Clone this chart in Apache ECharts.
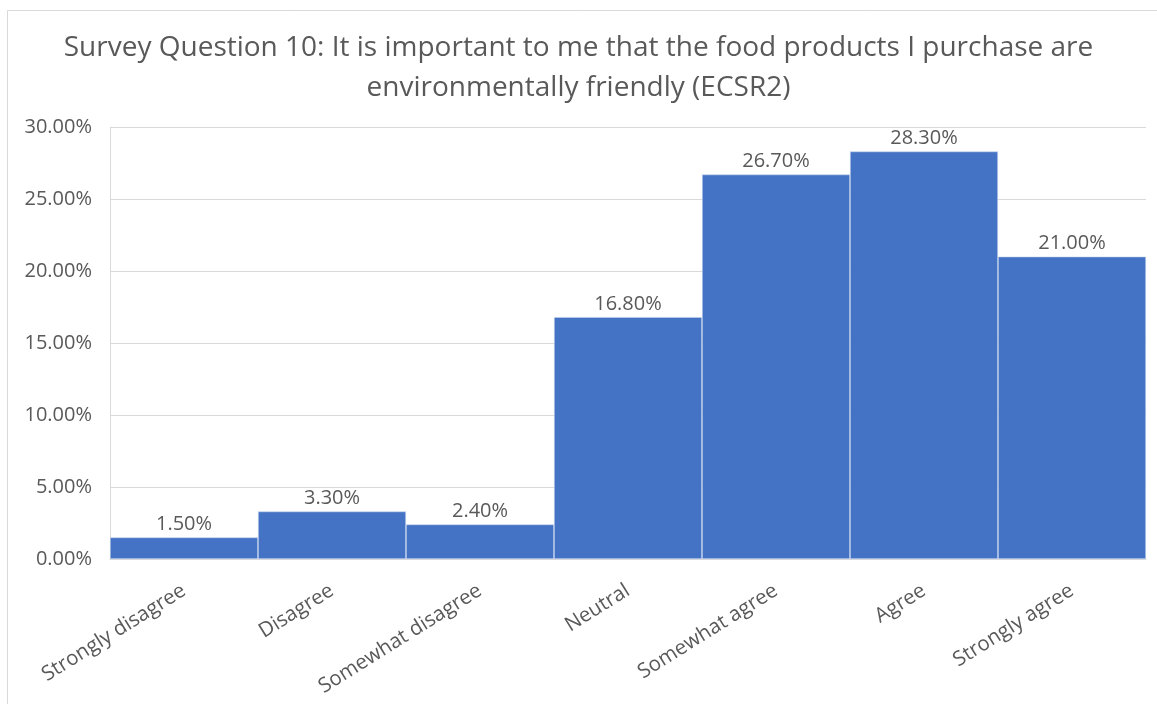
<!DOCTYPE html>
<html>
<head>
<meta charset="utf-8">
<script src="https://cdn.jsdelivr.net/npm/echarts@6/dist/echarts.min.js"></script>
<style>
  html, body { margin: 0; padding: 0; background: #ffffff; }
  #chart { width: 1157px; height: 704px; }
</style>
</head>
<body>
<div id="chart"></div>
<script>
// Survey responses (share of respondents, in percent)
const categories = [
  'Strongly disagree', 'Disagree', 'Somewhat disagree', 'Neutral',
  'Somewhat agree', 'Agree', 'Strongly agree'
];
const shares = [1.5, 3.3, 2.4, 16.8, 26.7, 28.3, 21.0];
const yTicks = [0, 5, 10, 15, 20, 25, 30];

const titleLines = [
  'Survey Question 10: It is important to me that the food products I purchase are',
  'environmentally friendly (ECSR2)'
];

const textColor = '#595959';
const gridColor = '#d9d9d9';
const labelFont = '"Open Sans", "Noto Sans", sans-serif';
const titleFont = '"Open Sans", "Noto Sans", sans-serif';

const chart = echarts.init(document.getElementById('chart'), null, { renderer: 'canvas' });

chart.setOption({
  backgroundColor: '#ffffff',
  animation: false,
  title: {
    text: titleLines.join('\n'),
    left: 'center',
    top: 23,
    textStyle: {
      fontFamily: titleFont,
      fontSize: 28,
      fontWeight: 'normal',
      color: textColor,
      lineHeight: 40
    }
  },
  graphic: [
    { type: 'line', shape: { x1: 7.5, y1: 10.5, x2: 1157, y2: 10.5 }, style: { stroke: gridColor, lineWidth: 1 } },
    { type: 'line', shape: { x1: 7.5, y1: 10.5, x2: 7.5, y2: 704 }, style: { stroke: gridColor, lineWidth: 1 } }
  ],
  grid: { left: 110, right: 11, top: 127, bottom: 145, containLabel: false },
  xAxis: {
    type: 'category',
    data: categories,
    axisLine: { show: true, lineStyle: { color: gridColor, width: 1 } },
    axisTick: { show: false },
    axisLabel: {
      rotate: 32,
      margin: 30,
      interval: 0,
      fontFamily: labelFont,
      fontSize: 20.5,
      color: textColor
    }
  },
  yAxis: {
    type: 'value',
    min: yTicks[0],
    max: yTicks[yTicks.length - 1],
    interval: 5,
    axisLine: { show: true, lineStyle: { color: gridColor, width: 1 } },
    axisTick: { show: false },
    splitLine: { show: true, lineStyle: { color: gridColor, width: 1 } },
    axisLabel: {
      margin: 18,
      fontFamily: labelFont,
      fontSize: 20,
      color: textColor,
      formatter: v => v.toFixed(2) + '%'
    }
  },
  series: [{
    type: 'bar',
    data: shares,
    barCategoryGap: '0%',
    itemStyle: { color: '#4472c4', borderColor: '#c9d6ee', borderWidth: 0.6 },
    label: {
      show: true,
      position: 'top',
      distance: 3,
      fontFamily: labelFont,
      fontSize: 20,
      color: textColor,
      formatter: p => p.value.toFixed(2) + '%'
    }
  }]
});
</script>
</body>
</html>
